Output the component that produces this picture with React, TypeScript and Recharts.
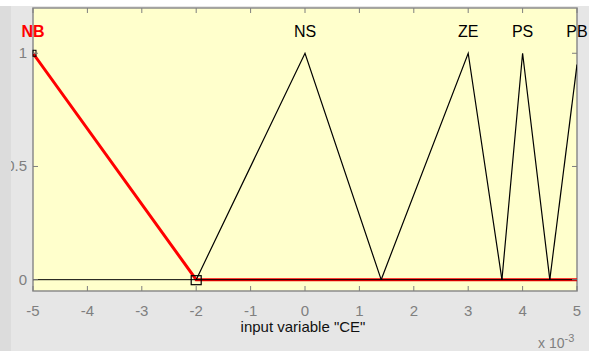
import React from "react";
import {
  LineChart,
  Line,
  XAxis,
  YAxis,
  ReferenceArea,
  ReferenceDot,
} from "recharts";

// membership functions of input variable "CE" (x in units of 1e-3)
const xTicks = [-5, -4, -3, -2, -1, 0, 1, 2, 3, 4, 5];
const yTicks = [0, 0.5, 1];
const yTickLabels = ["0", "0.5", "1"];

const nbData = [
  { x: -5, y: 1 },
  { x: -2, y: 0 },
  { x: 5, y: 0 },
];
const nsData = [
  { x: -2, y: 0 },
  { x: 0, y: 1 },
  { x: 1.4, y: 0 },
];
const zeData = [
  { x: 1.4, y: 0 },
  { x: 3, y: 1 },
  { x: 3.62, y: 0 },
];
const psData = [
  { x: 3.62, y: 0 },
  { x: 4, y: 1 },
  { x: 4.5, y: 0 },
];
const pbData = [
  { x: 4.5, y: 0 },
  { x: 5, y: 0.95 },
];
const baseData = [
  { x: -5, y: 0 },
  { x: 5, y: 0 },
];

const mfNames = ["NB", "NS", "ZE", "PS", "PB"];
const mfPeaks = [-5, 0, 3, 4, 5];
const mfColors = ["#ff0000", "#000", "#000", "#000", "#000"];

const W = 589;
const H = 351;
const PLOT_LEFT = 33;
const PLOT_RIGHT = 577;
const PLOT_TOP = 8;
const PLOT_BOTTOM = 291;
const TICK_GRAY = "#7f7f7f";
const FONT = "'Liberation Sans', Arial, sans-serif";
const NARROW = "'Liberation Sans Narrow', 'Arial Narrow', 'Liberation Sans', sans-serif";

const XTick = (props: any) => {
  const { x, payload } = props;
  return (
    <g>
      <line x1={x} x2={x} y1={PLOT_BOTTOM} y2={PLOT_BOTTOM - 5} stroke={TICK_GRAY} />
      <line x1={x} x2={x} y1={PLOT_TOP} y2={PLOT_TOP + 5} stroke={TICK_GRAY} />
      <text
        x={x}
        y={PLOT_BOTTOM + 25}
        textAnchor="middle"
        fill={TICK_GRAY}
        fontSize={15}
        fontFamily={FONT}
      >
        {payload.value}
      </text>
    </g>
  );
};

const YTick = (props: any) => {
  const { y, payload } = props;
  const i = yTicks.indexOf(payload.value);
  return (
    <g>
      <line x1={PLOT_LEFT} x2={PLOT_LEFT + 5} y1={y} y2={y} stroke={TICK_GRAY} />
      <line x1={PLOT_RIGHT} x2={PLOT_RIGHT - 5} y1={y} y2={y} stroke={TICK_GRAY} />
      <text
        x={27}
        y={y + 5}
        textAnchor="end"
        fill={TICK_GRAY}
        fontSize={15}
        fontFamily={FONT}
      >
        {yTickLabels[i]}
      </text>
    </g>
  );
};

export default function App() {
  return (
    <div
      style={{
        position: "fixed",
        left: 0,
        top: 0,
        width: W,
        height: H,
        background: "#e6e6e6",
        overflow: "hidden",
      }}
    >
      <div style={{ position: "absolute", left: 0, top: 0, width: W, height: 6, background: "#fff" }} />
      <LineChart
        width={W}
        height={H}
        margin={{ top: PLOT_TOP, right: W - PLOT_RIGHT, bottom: 0, left: 0 }}
        style={{ position: "absolute", left: 0, top: 0 }}
      >
        <XAxis
          type="number"
          dataKey="x"
          domain={[-5, 5]}
          ticks={xTicks}
          tick={<XTick />}
          tickLine={false}
          axisLine={false}
          height={H - PLOT_BOTTOM}
          allowDataOverflow
        />
        <YAxis
          type="number"
          dataKey="y"
          domain={[-0.05, 1.2]}
          ticks={yTicks}
          tick={<YTick />}
          tickLine={false}
          axisLine={false}
          width={PLOT_LEFT}
          allowDataOverflow
        />
        <ReferenceArea
          x1={-5}
          x2={5}
          y1={-0.05}
          y2={1.2}
          fill="#ffffcc"
          fillOpacity={1}
          stroke="#8c8c8c"
          strokeWidth={1.5}
        />
        <Line data={nbData} dataKey="y" type="linear" stroke="#ff0000" strokeWidth={3} dot={false} isAnimationActive={false} />
        <Line data={baseData} dataKey="y" type="linear" stroke="#000" strokeWidth={1} dot={false} isAnimationActive={false} />
        <Line data={nsData} dataKey="y" type="linear" stroke="#000" strokeWidth={1.2} dot={false} isAnimationActive={false} />
        <Line data={zeData} dataKey="y" type="linear" stroke="#000" strokeWidth={1.2} dot={false} isAnimationActive={false} />
        <Line data={psData} dataKey="y" type="linear" stroke="#000" strokeWidth={1.2} dot={false} isAnimationActive={false} />
        <Line data={pbData} dataKey="y" type="linear" stroke="#000" strokeWidth={1.2} dot={false} isAnimationActive={false} />
        <ReferenceDot
          x={-2}
          y={0}
          r={5}
          shape={(p: any) => (
            <rect x={p.cx - 5} y={p.cy - 4} width={10} height={9} fill="none" stroke="#000" strokeWidth={1.2} />
          )}
        />
        <ReferenceDot
          x={-5}
          y={1}
          r={3}
          shape={(p: any) => (
            <rect x={p.cx} y={p.cy - 3} width={3} height={6} fill="none" stroke="#000" strokeWidth={1} />
          )}
        />
        {mfNames.map((name, i) => (
          <ReferenceDot
            key={name}
            x={mfPeaks[i]}
            y={1.1}
            r={1}
            shape={(p: any) => (
              <text
                x={p.cx}
                y={p.cy + 6}
                textAnchor="middle"
                fill={mfColors[i]}
                fontSize={16}
                fontWeight={i === 0 ? "bold" : "normal"}
                fontFamily={NARROW}
              >
                {name}
              </text>
            )}
          />
        ))}
      </LineChart>
      <div style={{ position: "absolute", left: 0, top: 6, width: 11, height: H - 6, background: "#dcdcdc" }} />
      <div
        style={{
          position: "absolute",
          left: 0,
          width: 606,
          top: 318,
          textAlign: "center",
          fontFamily: FONT,
          fontSize: 15,
          color: "#111",
          whiteSpace: "nowrap",
        }}
      >
        input variable "CE"
      </div>
      <div
        style={{
          position: "absolute",
          left: 538,
          top: 332,
          fontFamily: FONT,
          fontSize: 14,
          color: TICK_GRAY,
          whiteSpace: "nowrap",
        }}
      >
        x 10<sup style={{ fontSize: 11 }}>-3</sup>
      </div>
    </div>
  );
}
